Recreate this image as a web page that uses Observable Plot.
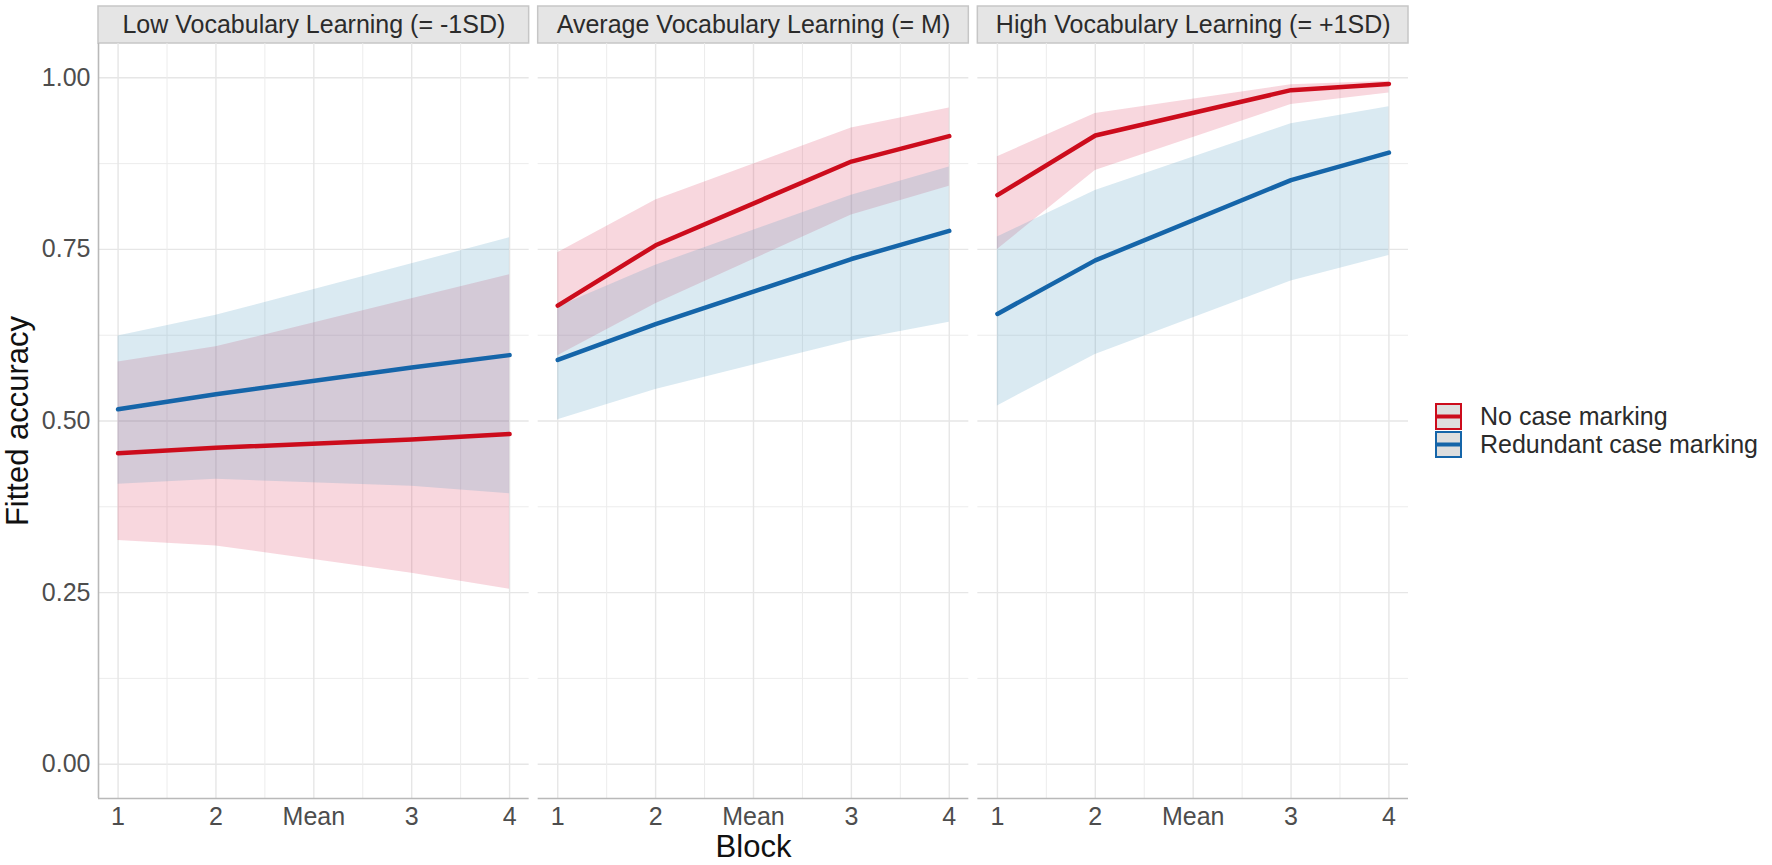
<!DOCTYPE html>
<html>
<head>
<meta charset="utf-8">
<script src="https://cdn.jsdelivr.net/npm/d3@7"></script>
<script src="https://cdn.jsdelivr.net/npm/@observablehq/plot@0.6"></script>
<style>
  html, body { margin: 0; padding: 0; background: #fff; }
  #wrap { position: relative; width: 1772px; height: 865px; font-family: "Liberation Sans", Arial, sans-serif; }
  #legend { position: absolute; left: 1435px; top: 402px; }
  .item { display: flex; align-items: center; height: 28px; }
  .item svg { display: block; }
  .item span { margin-left: 18px; font-size: 25px; color: #2b2b2b; white-space: nowrap; }
</style>
</head>
<body>
<div id="wrap">
  <div id="chart"></div>
  <div id="legend"></div>
</div>
<script>
// ---- data ----
const panels = [
  "Low Vocabulary Learning (= -1SD)",
  "Average Vocabulary Learning (= M)",
  "High Vocabulary Learning (= +1SD)"
];
const conditions = ["No case marking", "Redundant case marking"];
const colors = ["#cc0c1c", "#1565a9"];
const ribbonColors = ["#dc375a", "#4696be"];
const xTickLabels = ["1", "2", "Mean", "3", "4"];
const blocks = ["1", "2", "3", "4"];
const yTicks = [0, 0.25, 0.5, 0.75, 1];

// fitted values per panel: [No case marking], [Redundant case marking]
const lowFitNo     = [0.453, 0.461, 0.473, 0.481];
const lowLoNo      = [0.326, 0.318, 0.278, 0.255];
const lowHiNo      = [0.586, 0.608, 0.678, 0.713];
const lowFitRed    = [0.517, 0.539, 0.578, 0.596];
const lowLoRed     = [0.408, 0.415, 0.405, 0.394];
const lowHiRed     = [0.624, 0.654, 0.729, 0.767];

const avgFitNo     = [0.668, 0.756, 0.878, 0.915];
const avgLoNo      = [0.595, 0.671, 0.800, 0.842];
const avgHiNo      = [0.745, 0.822, 0.927, 0.956];
const avgFitRed    = [0.589, 0.641, 0.736, 0.777];
const avgLoRed     = [0.502, 0.546, 0.617, 0.644];
const avgHiRed     = [0.666, 0.727, 0.829, 0.870];

const highFitNo    = [0.829, 0.916, 0.982, 0.991];
const highLoNo     = [0.750, 0.865, 0.961, 0.978];
const highHiNo     = [0.885, 0.948, 0.990, 0.995];
const highFitRed   = [0.656, 0.734, 0.851, 0.891];
const highLoRed    = [0.522, 0.597, 0.704, 0.741];
const highHiRed    = [0.768, 0.836, 0.933, 0.958];

const series = [
  [panels[0], conditions[0], lowFitNo, lowLoNo, lowHiNo],
  [panels[0], conditions[1], lowFitRed, lowLoRed, lowHiRed],
  [panels[1], conditions[0], avgFitNo, avgLoNo, avgHiNo],
  [panels[1], conditions[1], avgFitRed, avgLoRed, avgHiRed],
  [panels[2], conditions[0], highFitNo, highLoNo, highHiNo],
  [panels[2], conditions[1], highFitRed, highLoRed, highHiRed]
];
const data = series.flatMap(([panel, condition, fit, lo, hi]) =>
  blocks.map((b, i) => ({panel, condition, x: xTickLabels.indexOf(b), fit: fit[i], lo: lo[i], hi: hi[i]}))
);

const xDomain = [-0.2, xTickLabels.length - 1 + 0.2];
const yDomain = [-0.05, 1.05];
const font = "Liberation Sans, Arial, sans-serif";

const chart = Plot.plot({
  width: 1772,
  height: 865,
  marginLeft: 98,
  marginRight: 364,
  marginTop: 43,
  marginBottom: 67,
  style: {fontFamily: font, background: "#fff"},
  fx: {domain: panels, paddingInner: 0.0205, paddingOuter: 0, axis: null, round: false},
  x: {domain: xDomain, axis: null},
  y: {domain: yDomain, axis: null},
  color: {domain: conditions, range: colors},
  marks: [
    Plot.gridY(d3.range(0.125, 1, 0.25), {stroke: "#ececec", strokeOpacity: 1, strokeWidth: 1}),
    Plot.gridY(yTicks, {stroke: "#e6e6e6", strokeOpacity: 1, strokeWidth: 1.4}),
    Plot.gridX(d3.range(0.5, 4, 1), {stroke: "#ececec", strokeOpacity: 1, strokeWidth: 1}),
    Plot.gridX(d3.range(0, 5), {stroke: "#e6e6e6", strokeOpacity: 1, strokeWidth: 1.4}),
    ...conditions.map((c, i) =>
      Plot.areaY(data.filter((d) => d.condition === c), {fx: "panel", x: "x", y1: "lo", y2: "hi", fill: ribbonColors[i], fillOpacity: 0.2})
    ),
    Plot.line(data, {fx: "panel", x: "x", y: "fit", z: "condition", stroke: "condition", strokeWidth: 4.5}),
    Plot.ruleY([yDomain[0]], {stroke: "#b9b9b9", strokeWidth: 1.6}),
    Plot.ruleX([xDomain[0]], {fx: () => panels[0], stroke: "#b9b9b9", strokeWidth: 1.6}),
    Plot.axisY({ticks: yTicks, tickFormat: d3.format(".2f"), tickSize: 0, tickPadding: 8, fontSize: 25, color: "#4d4d4d", label: null}),
    Plot.axisX({ticks: d3.range(0, 5), tickFormat: (d) => xTickLabels[d], tickSize: 0, tickPadding: 9, fontSize: 25, color: "#4d4d4d", label: null}),
    Plot.text(panels, {fx: (d) => d, text: (d) => d, frameAnchor: "top", lineAnchor: "middle", dy: -18.5, fontSize: 25, fill: "#2b2b2b"}),
    Plot.text(["Block"], {fx: () => panels[1], text: (d) => d, frameAnchor: "bottom", lineAnchor: "middle", dy: 49, fontSize: 31, fill: "#111"}),
    Plot.text(["Fitted accuracy"], {fx: () => panels[0], text: (d) => d, frameAnchor: "left", textAnchor: "middle", lineAnchor: "middle", dx: -80, rotate: -90, fontSize: 31, fill: "#111"})
  ]
});

// strip backgrounds behind the facet titles
const fx = chart.scale("fx");
const svg = d3.select(chart);
panels.forEach((p) => {
  svg.insert("rect", ":first-child")
    .attr("x", fx.apply(p))
    .attr("y", 6)
    .attr("width", fx.bandwidth)
    .attr("height", 37)
    .attr("fill", "#e5e5e5")
    .attr("stroke", "#c6c6c6")
    .attr("stroke-width", 1.5);
});
document.getElementById("chart").appendChild(chart);

// legend
const legend = d3.select("#legend");
conditions.forEach((c, i) => {
  const item = legend.append("div").attr("class", "item");
  const s = item.append("svg").attr("width", 27).attr("height", 27);
  s.append("rect").attr("x", 1).attr("y", 1).attr("width", 25).attr("height", 25)
    .attr("fill", "#dedede").attr("stroke", colors[i]).attr("stroke-width", 2);
  s.append("line").attr("x1", 2).attr("x2", 25).attr("y1", 13.5).attr("y2", 13.5)
    .attr("stroke", colors[i]).attr("stroke-width", 4);
  item.append("span").text(c);
});
</script>
</body>
</html>
